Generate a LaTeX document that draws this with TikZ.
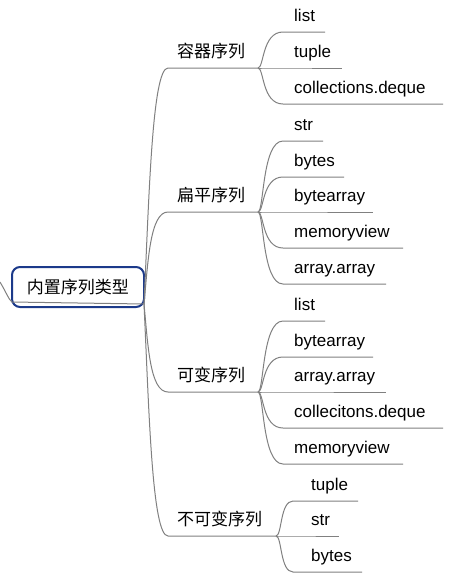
\documentclass[tikz,border=0pt]{standalone}
\usepackage{fontspec}
\setmainfont{Liberation Sans}
\newfontfamily\cjk{Noto Sans CJK SC}
\definecolor{linkgrey}{HTML}{808080}
\definecolor{rootblue}{HTML}{1C3A8A}
\begin{document}
\begin{tikzpicture}[x=1pt,y=-1pt,
  link/.style={draw=linkgrey,line width=1pt},
  rootbox/.style={draw=rootblue,line width=2pt,fill=white,rounded corners=8pt,
     minimum width=132pt,minimum height=40pt,inner sep=0pt,font=\cjk\fontsize{17}{20}\selectfont},
  topic/.style={anchor=base west,inner sep=0pt,font=\cjk\fontsize{17}{20}\selectfont},
  leaf/.style={anchor=base west,inner sep=0pt,font=\fontsize{17}{20}\selectfont}]
\useasboundingbox (0,0) rectangle (452,579);
\fill[white] (0,0) rectangle (452,579);

% root
\node[rootbox] (root) at (78,287) {内置序列类型};
\coordinate (o) at (144,304);
\coordinate (lin) at (0,282);
\draw[link] (lin) .. controls (6,292) and (9,300) .. (12,302) -- (o);

% level 1
\coordinate (sA) at (168,68);  \coordinate (fA) at (258,68);
\coordinate (sB) at (168,212); \coordinate (fB) at (258,212);
\coordinate (sC) at (168,392); \coordinate (fC) at (258,392);
\coordinate (sD) at (168,536); \coordinate (fD) at (276,536);
\node[topic] (tA) at (177,57) {容器序列};
\node[topic] (tB) at (177,201) {扁平序列};
\node[topic] (tC) at (177,381) {可变序列};
\node[topic] (tD) at (177,525) {不可变序列};
\draw[link] (o) .. controls (149,200) and (152,68) .. (sA) -- (fA);
\draw[link] (o) .. controls (148,262) and (150,212) .. (sB) -- (fB);
\draw[link] (o) .. controls (148,346) and (150,392) .. (sC) -- (fC);
\draw[link] (o) .. controls (149,410) and (152,536) .. (sD) -- (fD);

% children: name/text/underline y/end x
\foreach \n/\t/\y/\e/\f in {
  a1/list/32/325/A, a2/tuple/68/342/A, a3/collections.deque/104/443/A,
  b1/str/141/323/B, b2/bytes/177/344/B, b3/bytearray/212/373/B, b4/memoryview/248/403/B, b5/array.array/284/386/B,
  c1/list/321/325/C, c2/bytearray/357/373/C, c3/array.array/392/386/C, c4/collecitons.deque/428/443/C, c5/memoryview/464/403/C}{
  \node[leaf] (\n) at (294,\y-11) {\t};
  \coordinate (\n s) at (283,\y);
  \coordinate (\n e) at (\e,\y);
  \draw[link] (f\f) .. controls +(6,0) and (262,\y) .. (\n s) -- (\n e);
}
\foreach \n/\t/\y/\e in {d1/tuple/501/358, d2/str/536/339, d3/bytes/572/362}{
  \node[leaf] (\n) at (311,\y-11) {\t};
  \coordinate (\n s) at (293,\y);
  \coordinate (\n e) at (\e,\y);
  \draw[link] (fD) .. controls +(6,0) and (280,\y) .. (\n s) -- (\n e);
}
\end{tikzpicture}
\end{document}
